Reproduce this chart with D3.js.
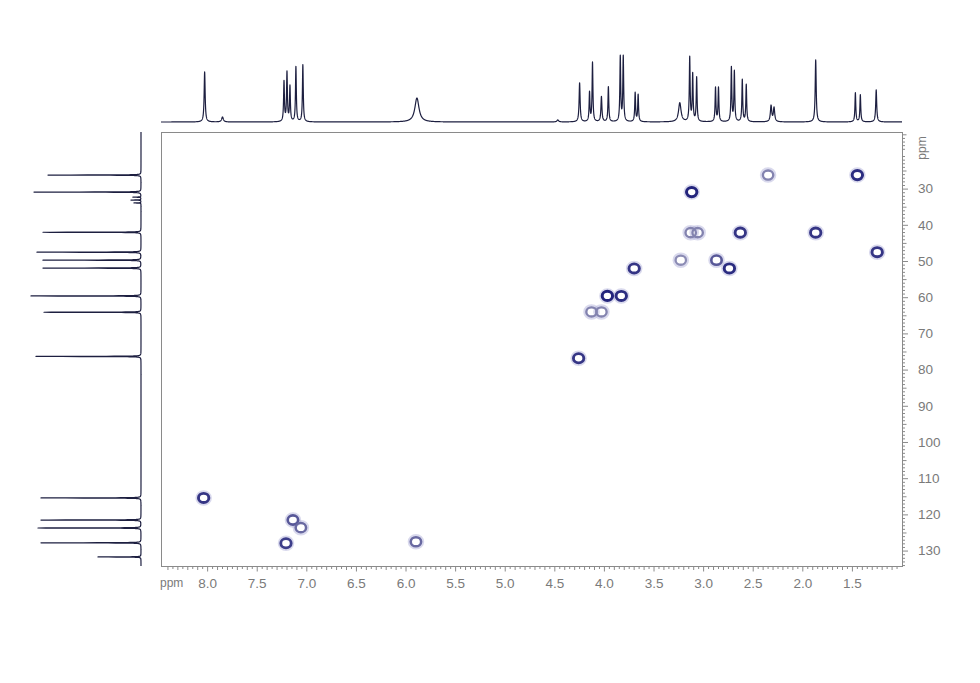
<!DOCTYPE html>
<html>
<head>
<meta charset="utf-8">
<script src="https://cdn.jsdelivr.net/npm/d3@7"></script>
<style>
  html, body { margin: 0; padding: 0; background: #fff; }
  svg { display: block; font-family: "Liberation Sans", Arial, sans-serif; }
</style>
</head>
<body>
<svg id="chart" width="980" height="683"></svg>
<script>
// ── HSQC cross peaks (1H ppm, 13C ppm, contour strength 0..1) ──
const hsqcH     = [8.03, 7.13, 7.05, 7.20, 5.89, 4.25, 4.12, 4.02, 3.96, 3.82, 3.69, 3.22, 3.12, 3.05, 3.11, 2.86, 2.73, 2.62, 2.34, 1.86, 1.44, 1.24];
const hsqcC     = [115.6, 121.7, 123.8, 128.1, 127.7, 77.0, 64.2, 64.2, 59.8, 59.8, 52.2, 49.9, 42.3, 42.3, 31.1, 49.9, 52.2, 42.3, 26.4, 42.3, 26.4, 47.7];
const hsqcLevel = [0.9, 0.7, 0.6, 0.85, 0.6, 0.9, 0.45, 0.45, 1.0, 0.95, 0.9, 0.4, 0.45, 0.45, 1.0, 0.7, 0.95, 0.9, 0.45, 0.9, 0.95, 0.9];

// ── 1H projection (top): shift ppm, height, half width ppm ──
const protonShift  = [8.02, 7.84, 7.22, 7.19, 7.16, 7.10, 7.03, 5.88, 4.46, 4.24, 4.14, 4.11, 4.02, 3.95, 3.83, 3.80, 3.68, 3.65, 3.23, 3.13, 3.10, 3.06, 2.87, 2.84, 2.71, 2.68, 2.60, 2.56, 2.31, 2.28, 1.86, 1.46, 1.41, 1.25];
const protonHeight = [50, 5, 40, 49, 35, 55, 57, 24, 2, 39, 29, 59, 25, 35, 65, 65, 29, 27, 19, 64, 47, 44, 34, 34, 54, 50, 42, 37, 16, 14, 62, 29, 27, 32];
const protonWidth  = [0.006, 0.01, 0.005, 0.005, 0.005, 0.005, 0.005, 0.025, 0.01, 0.006, 0.005, 0.005, 0.006, 0.005, 0.005, 0.005, 0.005, 0.005, 0.015, 0.005, 0.005, 0.005, 0.005, 0.005, 0.005, 0.005, 0.005, 0.005, 0.008, 0.008, 0.006, 0.005, 0.005, 0.006];

// ── 13C projection (left): shift ppm, height ──
const carbonShift  = [26.4, 31.1, 32.5, 33.3, 34.1, 42.2, 47.7, 49.9, 52.1, 59.8, 64.3, 76.5, 115.6, 121.7, 123.9, 128.0, 131.9];
const carbonHeight = [93, 107, 8, 10, 7, 98, 104, 98, 98, 110, 97, 105, 100, 100, 103, 100, 43];

// ── Axis labels ──
const xLabels = [8.0, 7.5, 7.0, 6.5, 6.0, 5.5, 5.0, 4.5, 4.0, 3.5, 3.0, 2.5, 2.0, 1.5];
const yLabels = [30, 40, 50, 60, 70, 80, 90, 100, 110, 120, 130];

const svg = d3.select('#chart');
const frame = { left: 161, right: 902, top: 132, bottom: 566 };

const x = d3.scaleLinear().domain([8.46, 0.99]).range([frame.left, frame.right]);
const y = d3.scaleLinear().domain([14.5, 134.4]).range([frame.top, frame.bottom]);
const topY  = d3.scaleLinear().domain([0, 70]).range([122, 52]);
const leftX = d3.scaleLinear().domain([0, 110]).range([141, 31]);

const axisGray = '#8a8a8a';
const labelGray = '#7a7a7a';
const specColor = '#1d1f40';

// ── Frame ──
svg.append('rect')
  .attr('x', frame.left + 0.5).attr('y', frame.top + 0.5)
  .attr('width', frame.right - frame.left).attr('height', frame.bottom - frame.top)
  .attr('fill', 'none').attr('stroke', axisGray).attr('stroke-width', 1);

// ── Bottom axis: minor / medium / major ticks ──
const fmt = d3.format('.1f');
const xMinor = d3.range(20, 169).map(i => i * 0.05).filter(v => v > 0.99 && v < 8.46);
const bottomMinor = svg.append('g').attr('transform', `translate(0.5,${frame.bottom + 0.5})`)
  .call(d3.axisBottom(x).tickValues(xMinor.filter(v => Math.round(v * 20) % 2 === 1)).tickSize(2.5).tickFormat(''));
const bottomMid = svg.append('g').attr('transform', `translate(0.5,${frame.bottom + 0.5})`)
  .call(d3.axisBottom(x).tickValues(xMinor.filter(v => Math.round(v * 20) % 2 === 0 && Math.round(v * 20) % 10 !== 0)).tickSize(3.5).tickFormat(''));
const bottomMajor = svg.append('g').attr('transform', `translate(0.5,${frame.bottom + 0.5})`)
  .call(d3.axisBottom(x).tickValues(xLabels).tickSize(5).tickPadding(7).tickFormat(fmt));
[bottomMinor, bottomMid, bottomMajor].forEach(g => {
  g.select('.domain').remove();
  g.selectAll('line').attr('stroke', axisGray);
});
bottomMajor.selectAll('text').attr('fill', labelGray).attr('font-size', '13.5px');
svg.append('text').attr('x', 160).attr('y', 587)
  .attr('fill', labelGray).attr('font-size', '12px').text('ppm');

// ── Right axis ──
const yMinor = d3.range(15, 135);
const rightMinor = svg.append('g').attr('transform', `translate(${frame.right + 0.5},0.5)`)
  .call(d3.axisRight(y).tickValues(yMinor.filter(v => v % 5 !== 0)).tickSize(2.5).tickFormat(''));
const rightMid = svg.append('g').attr('transform', `translate(${frame.right + 0.5},0.5)`)
  .call(d3.axisRight(y).tickValues(yMinor.filter(v => v % 5 === 0 && v % 10 !== 0)).tickSize(4).tickFormat(''));
const rightMajor = svg.append('g').attr('transform', `translate(${frame.right + 0.5},0.5)`)
  .call(d3.axisRight(y).tickValues(yLabels).tickSize(5.5).tickPadding(10).tickFormat(d3.format('d')));
[rightMinor, rightMid, rightMajor].forEach(g => {
  g.select('.domain').remove();
  g.selectAll('line').attr('stroke', axisGray);
});
rightMajor.selectAll('text').attr('fill', labelGray).attr('font-size', '13.5px');
svg.append('text').attr('transform', 'translate(926,148) rotate(-90)')
  .attr('text-anchor', 'middle').attr('fill', labelGray).attr('font-size', '12px').text('ppm');

// ── 1H projection (top) ──
const hPts = d3.range(0, 7471).map(i => {
  const p = 8.46 - i * 0.001;
  let v = 0;
  protonShift.forEach((s, k) => {
    const d = (p - s) / protonWidth[k];
    v += protonHeight[k] / (1 + d * d);
  });
  return [p, v];
});
svg.append('path')
  .attr('d', d3.line().x(d => x(d[0])).y(d => topY(d[1]))(hPts))
  .attr('fill', 'none').attr('stroke', specColor).attr('stroke-width', 1.2)
  .attr('stroke-linejoin', 'round');

// ── 13C projection (left) ──
const cPts = d3.range(0, 11991).map(i => {
  const p = 14.5 + i * 0.01;
  let v = 0;
  carbonShift.forEach((s, k) => {
    const d = (p - s) / 0.035;
    v += carbonHeight[k] / (1 + d * d);
  });
  return [p, v];
});
svg.append('path')
  .attr('d', d3.line().x(d => leftX(d[1])).y(d => y(d[0]))(cPts))
  .attr('fill', 'none').attr('stroke', specColor).attr('stroke-width', 1.2)
  .attr('stroke-linejoin', 'round');

// ── Cross peaks ──
const peakColor = d3.scaleLinear().domain([0.4, 1]).range(['#8c8cb4', '#23247c']);
const peaks = hsqcH.map((h, i) => ({ h, c: hsqcC[i], level: hsqcLevel[i] }));
const pg = svg.append('g');
pg.selectAll('ellipse.halo').data(peaks).join('ellipse').attr('class', 'halo')
  .attr('cx', d => x(d.h)).attr('cy', d => y(d.c))
  .attr('rx', 6.5).attr('ry', 6)
  .attr('fill', 'none').attr('stroke', '#b4b4dc').attr('stroke-opacity', 0.5).attr('stroke-width', 3.5);
pg.selectAll('ellipse.ring').data(peaks).join('ellipse').attr('class', 'ring')
  .attr('cx', d => x(d.h)).attr('cy', d => y(d.c))
  .attr('rx', 5.2).attr('ry', 4.6)
  .attr('fill', 'none').attr('stroke', d => peakColor(d.level))
  .attr('stroke-width', d => 1.8 + d.level * 1.2);
</script>
</body>
</html>
